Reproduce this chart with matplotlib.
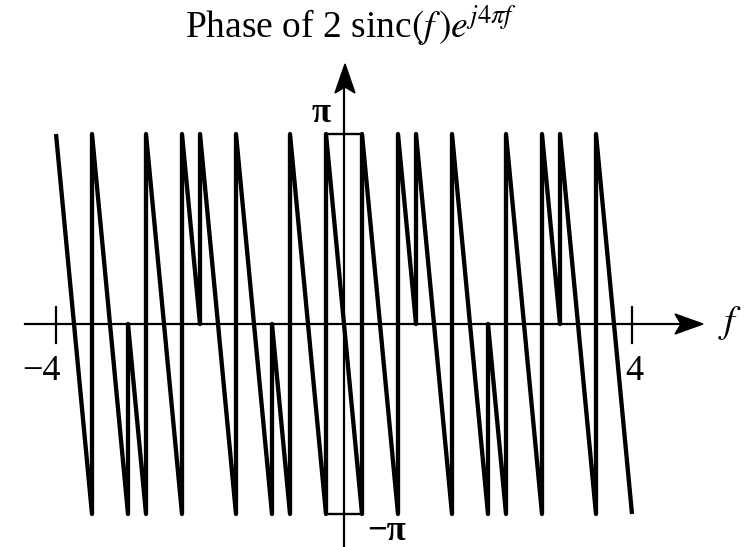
import numpy as np
import matplotlib
matplotlib.use("Agg")
import matplotlib.pyplot as plt
from matplotlib.patches import Rectangle, Polygon

# ---- data: breakpoints of the wrapped phase curve (f, phase in units of pi) ----
f_pts = [-4, -3.5, -3.5, -3, -3, -2.75, -2.75, -2.25, -2.25, -2, -2, -1.5, -1.5, -1, -1,
         -0.75, -0.75, -0.25, -0.25, 0,
         0.25, 0.25, 0.75, 0.75, 1, 1, 1.5, 1.5, 2, 2, 2.25, 2.25, 2.75, 2.75, 3, 3,
         3.5, 3.5, 4]
phase_pts = [1, -1, 1, -1, 0, -1, 1, -1, 1, 0, 1, -1, 1, -1, 0,
             -1, 1, -1, 1, 0,
             -1, 1, -1, 1, 0, 1, -1, 1, -1, 0, -1, 1, -1, 1, 0, 1,
             -1, 1, -1]
x_ticks = [-4, 4]
x_tick_labels = ["\u22124", "4"]
y_ticks = [1, -1]
y_tick_labels = ["\u03c0", "\u2212\u03c0"]
box_f = [-0.25, 0.25]
title = r"Phase of 2 sinc$(f\,)e^{j4\pi f}$"

plt.rcParams["font.family"] = ["Liberation Serif", "DejaVu Serif"]
plt.rcParams["mathtext.fontset"] = "stix"

W, H = 754, 547
fig = plt.figure(figsize=(W / 100, H / 100), dpi=100)
ax = fig.add_axes([0, 0, 1, 1])
ax.axis("off")

PX0, SX = 56, 72.0      # pixel of f=-4, pixels per unit f
PY0, SY = 324, 190.0    # pixel of phase 0, pixels per pi

def X(px):
    return -4 + (px - PX0) / SX

def Y(py):
    return (PY0 - py) / SY * np.pi

ax.set_xlim(X(0), X(W))
ax.set_ylim(Y(H), Y(0))

# curve
ax.plot(f_pts, np.array(phase_pts) * np.pi, color="black", lw=3.1,
        solid_joinstyle="round", solid_capstyle="butt", zorder=3)

# box around principal interval
ax.add_patch(Rectangle((box_f[0], -np.pi), box_f[1] - box_f[0], 2 * np.pi,
                       fill=False, edgecolor="black", lw=1.7, zorder=3))

# axes lines
ax.plot([X(25), X(685)], [0, 0], color="black", lw=1.6, zorder=2)
ax.plot([0, 0], [Y(H + 5), Y(85)], color="black", lw=1.6, zorder=2)

# arrow heads (stealth style)
ax.add_patch(Polygon([(X(703), Y(324)), (X(675), Y(314)), (X(681), Y(324)),
                      (X(675), Y(334))], closed=True, color="black", zorder=4))
ax.add_patch(Polygon([(X(345), Y(64)), (X(335), Y(93)), (X(345), Y(87)),
                      (X(355), Y(93))], closed=True, color="black", zorder=4))

# ticks on x axis
for t in x_ticks:
    ax.plot([t, t], [Y(307), Y(343)], color="black", lw=1.6, zorder=2)

ax.text(X(41), Y(371), x_tick_labels[0], ha="center", va="center", fontsize=26)
ax.text(X(634), Y(371), x_tick_labels[1], ha="center", va="center", fontsize=26)
ax.text(X(730), Y(323), r"$f$", ha="center", va="center", fontsize=28)

ax.text(X(321), Y(114), y_tick_labels[0], ha="center", va="center", fontsize=25,
        fontweight="bold")
ax.text(X(387), Y(531), y_tick_labels[1], ha="center", va="center", fontsize=25,
        fontweight="bold")

ax.text(X(351), Y(26), title, ha="center", va="center", fontsize=27)

fig.savefig("out.png", dpi=100)
